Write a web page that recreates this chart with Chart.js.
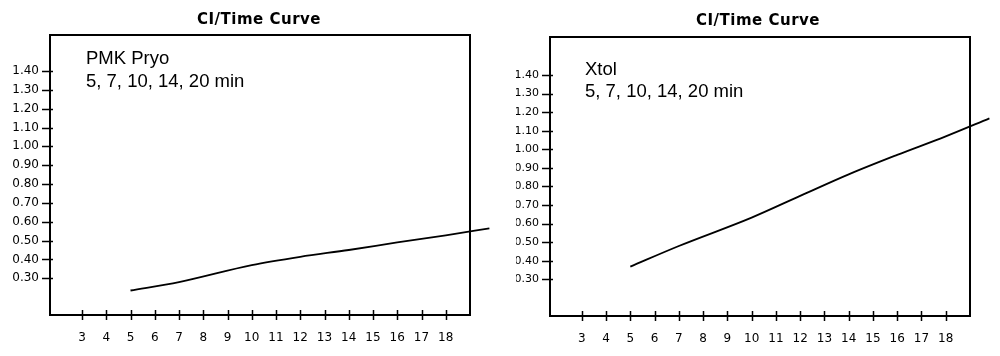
<!DOCTYPE html>
<html><head><meta charset="utf-8">
<script src="https://cdn.jsdelivr.net/npm/chart.js@4.4.1/dist/chart.umd.min.js"></script>
<style>
html,body{margin:0;padding:0;background:#fff;width:1000px;height:356px;overflow:hidden}
#w1{position:absolute;left:0;top:0;width:500px;height:356px}
#w2{position:absolute;left:516px;top:0;width:484px;height:356px}
</style></head><body>
<div id="w1"><canvas id="c1"></canvas></div>
<div id="w2"><canvas id="c2"></canvas></div>
<script>
// ---- data ----
const timeMinutes = [5, 7, 10, 12, 14, 16, 18, 19.8];
const pmkPyroCI   = [0.235, 0.28, 0.37, 0.414, 0.45, 0.49, 0.528, 0.565];
const xtolCI      = [0.368, 0.479, 0.632, 0.749, 0.865, 0.97, 1.07, 1.167];
const xTickValues = [3, 4, 5, 6, 7, 8, 9, 10, 11, 12, 13, 14, 15, 16, 17, 18];
const yTickValues = [0.30, 0.40, 0.50, 0.60, 0.70, 0.80, 0.90, 1.00, 1.10, 1.20, 1.30, 1.40];
const chartTitle  = 'CI/Time Curve';
const leftNote    = ['PMK Pryo', '5, 7, 10, 14, 20 min'];
const rightNote   = ['Xtol', '5, 7, 10, 14, 20 min'];

const framePlugin = {
  id: 'frame',
  beforeDatasetsDraw(chart, args, o) {
    const ctx = chart.ctx, a = chart.chartArea;
    ctx.save();
    ctx.strokeStyle = '#000';
    ctx.lineWidth = 2;
    ctx.strokeRect(a.left, a.top, a.right - a.left, a.bottom - a.top);
    ctx.lineWidth = 1.5;
    ctx.beginPath();
    chart.scales.y.ticks.forEach(t => {
      const y = Math.round(chart.scales.y.getPixelForValue(t.value)) + 0.5;
      ctx.moveTo(a.left - 8, y); ctx.lineTo(a.left + 3, y);
    });
    chart.scales.x.ticks.forEach(t => {
      const x = Math.round(chart.scales.x.getPixelForValue(t.value)) + 0.5;
      ctx.moveTo(x, a.bottom - 5); ctx.lineTo(x, a.bottom + 5);
    });
    ctx.stroke();
    ctx.restore();
  },
  afterDraw(chart, args, o) {
    const ctx = chart.ctx;
    ctx.save();
    ctx.fillStyle = '#000';
    ctx.font = 'bold 15px "DejaVu Sans", sans-serif';
    if ('letterSpacing' in ctx) ctx.letterSpacing = o.titleSpacing + 'px';
    ctx.textAlign = 'center';
    ctx.textBaseline = 'alphabetic';
    ctx.fillText(chartTitle, o.titleX, o.titleY);
    if ('letterSpacing' in ctx) ctx.letterSpacing = '0px';
    ctx.textAlign = 'left';
    ctx.font = '18.5px "Liberation Sans", Arial, sans-serif';
    o.note.forEach((line, i) => ctx.fillText(line, o.noteX, o.noteY + i * 22.3));
    ctx.restore();
  }
};

function makeChart(id, values, cfg) {
  return new Chart(document.getElementById(id), {
    type: 'line',
    data: {
      datasets: [{
        data: timeMinutes.map((t, i) => ({x: t, y: values[i]})),
        borderColor: '#000',
        borderWidth: 1.8,
        pointRadius: 0,
        cubicInterpolationMode: 'monotone',
        clip: false
      }]
    },
    options: {
      responsive: true,
      maintainAspectRatio: false,
      animation: false,
      events: [],
      layout: {padding: {top: cfg.top, right: cfg.right, left: 0, bottom: 0}},
      plugins: {
        legend: {display: false},
        tooltip: {enabled: false},
        title: {display: false},
        frame: cfg.frame
      },
      scales: {
        x: {
          type: 'linear', min: cfg.xMin, max: cfg.xMax,
          afterBuildTicks: s => { s.ticks = xTickValues.map(v => ({value: v})); },
          afterFit: s => { s.height = cfg.xH; },
          grid: {display: false, drawTicks: false},
          border: {display: false},
          ticks: {font: {family: 'DejaVu Sans', size: 12}, color: '#000', padding: 16,
                  autoSkip: false, maxRotation: 0, callback: v => String(v)}
        },
        y: {
          type: 'linear', min: cfg.yMin, max: cfg.yMax,
          afterBuildTicks: s => { s.ticks = yTickValues.map(v => ({value: v})); },
          afterFit: s => { s.width = cfg.yW; },
          grid: {display: false, drawTicks: false},
          border: {display: false},
          ticks: {font: {family: 'DejaVu Sans', size: cfg.yFont}, color: '#000', padding: 11,
                  autoSkip: false, callback: v => Number(v).toFixed(2)}
        }
      }
    },
    plugins: [framePlugin]
  });
}

makeChart('c1', pmkPyroCI, {
  top: 35, right: 30, xH: 41, yW: 50, yFont: 12,
  xMin: 1.68, xMax: 19.0, yMin: 0.105, yMax: 1.591,
  frame: {titleX: 259, titleY: 24.3, titleSpacing: 0.5, note: leftNote, noteX: 86, noteY: 64.3}
});
makeChart('c2', xtolCI, {
  top: 37, right: 30, xH: 40, yW: 34, yFont: 11,
  xMin: 1.69, xMax: 19.0, yMin: 0.102, yMax: 1.605,
  frame: {titleX: 758 - 516, titleY: 25, titleSpacing: 0.5, note: rightNote, noteX: 585 - 516, noteY: 75}
});
</script>
</body></html>
